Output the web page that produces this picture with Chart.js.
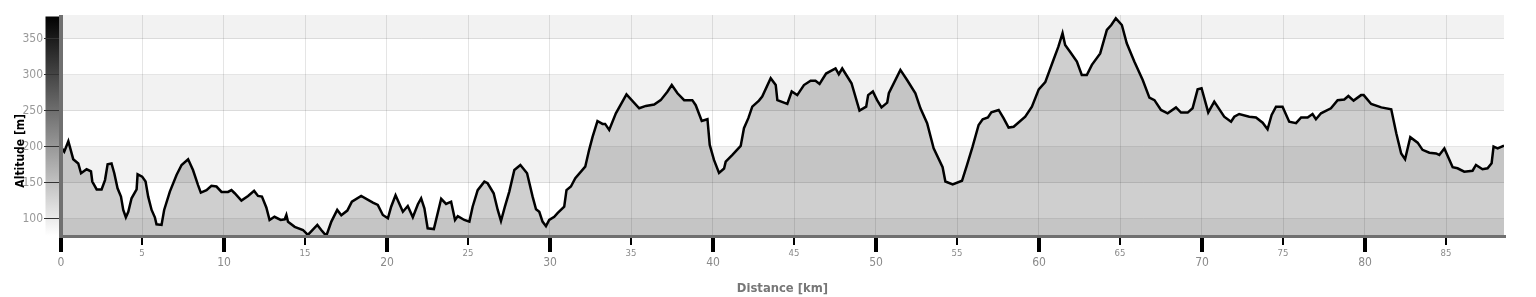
<!DOCTYPE html>
<html>
<head>
<meta charset="utf-8">
<script src="https://cdn.jsdelivr.net/npm/chart.js@4.4.1/dist/chart.umd.min.js"></script>
<style>
  html, body { margin: 0; padding: 0; background: #ffffff; }
  canvas { display: block; }
</style>
</head>
<body>
<canvas id="c" width="1536" height="297"></canvas>
<script>
const distances = [
  0, 0.2, 0.45, 0.75, 1.06, 1.23, 1.57, 1.84, 1.92, 2.19, 2.49, 2.7, 2.86, 3.1, 3.27, 3.47, 3.68, 3.82, 3.98, 4.13,
  4.33, 4.64, 4.7, 4.98, 5.19, 5.35, 5.56, 5.76, 5.86, 6.17, 6.33, 6.68, 7.09, 7.4, 7.8, 8.1, 8.41, 8.58, 8.93, 9.23,
  9.54, 9.85, 10.25, 10.46, 10.66, 11.07, 11.48, 11.85, 12.09, 12.33, 12.6, 12.8, 13.1, 13.48, 13.73, 13.83, 13.93, 14.34, 14.85, 15.15,
  15.73, 15.97, 16.28, 16.59, 16.95, 17.2, 17.57, 17.85, 18.42, 19.14, 19.44, 19.75, 20.06, 20.26, 20.53, 20.98, 21.28, 21.59, 21.9, 22.1,
  22.3, 22.5, 22.88, 23.33, 23.63, 23.94, 24.18, 24.35, 24.75, 25.06, 25.26, 25.57, 25.98, 26.18, 26.55, 26.8, 27.0, 27.24, 27.51, 27.82,
  28.19, 28.6, 28.94, 29.15, 29.35, 29.55, 29.76, 29.96, 30.27, 30.47, 30.88, 31.02, 31.29, 31.56, 32.17, 32.41, 32.62, 32.92, 33.23, 33.39,
  33.64, 34.05, 34.7, 35.48, 35.89, 36.4, 36.8, 37.21, 37.48, 37.83, 38.24, 38.74, 38.95, 39.32, 39.67, 39.81, 40.07, 40.38, 40.69, 40.79,
  41.2, 41.71, 41.91, 42.18, 42.42, 42.83, 43.03, 43.55, 43.86, 43.96, 44.57, 44.84, 45.18, 45.59, 46.0, 46.3, 46.55, 46.95, 47.53, 47.73,
  47.94, 48.51, 49.0, 49.41, 49.53, 49.82, 50.08, 50.35, 50.7, 50.8, 51.51, 51.92, 52.43, 52.74, 53.15, 53.55, 54.1, 54.27, 54.72, 55.29,
  55.6, 55.94, 56.31, 56.56, 56.88, 57.09, 57.54, 57.84, 58.15, 58.46, 59.17, 59.58, 60.0, 60.4, 60.9, 61.2, 61.46, 61.62, 61.93, 62.34,
  62.64, 62.95, 63.26, 63.77, 64.18, 64.45, 64.73, 65.1, 65.4, 65.87, 66.38, 66.79, 67.1, 67.5, 67.91, 68.42, 68.73, 69.14, 69.44, 69.75,
  69.99, 70.4, 70.77, 71.38, 71.8, 72.0, 72.3, 72.92, 73.33, 73.74, 74.04, 74.29, 74.56, 74.96, 75.37, 75.79, 76.1, 76.5, 76.8, 77.01,
  77.32, 77.93, 78.34, 78.75, 79.0, 79.32, 79.78, 79.94, 80.4, 81.02, 81.63, 81.94, 82.24, 82.48, 82.8, 83.25, 83.55, 83.97, 84.38, 84.58,
  84.89, 85.4, 85.7, 86.11, 86.62, 86.83, 87.23, 87.54, 87.79, 87.91, 88.16, 88.55
];
const altitudes = [
  200, 193.5, 208, 183, 177, 163.5, 169, 166, 152, 141, 141, 154, 176, 177, 163.5, 142.6, 131, 112.5, 102.3, 110,
  128.7, 141, 162, 158.8, 152, 131, 112.5, 102.3, 92.6, 91.7, 112.5, 138, 161, 175, 183, 168, 147, 136.6, 140, 146,
  145, 137.5, 137.5, 140, 135.7, 125.5, 132, 139, 132, 131, 116, 98.6, 103, 98.6, 99.5, 105.5, 96, 89, 84.7, 77.8,
  91.7, 84.7, 76.4, 96.3, 112.5, 105, 111.6, 124, 132, 122.7, 119.4, 105.5, 101, 117, 133, 110, 118, 102.3, 120.4, 128.7,
  114.8, 87, 86, 128, 120.8, 124, 98.6, 104, 98.6, 96.3, 117, 140, 151.8, 149.6, 135.7, 112.5, 97.2, 117, 138, 168,
  175, 163.5, 131, 113.5, 110, 96.3, 90, 98.6, 103, 108, 117, 140, 145, 156.5, 172.6, 196, 214, 236, 232, 232,
  223.6, 246.8, 273, 253.7, 257, 259, 265, 276.8, 286, 274.6, 265, 265, 258, 236, 238.5, 202.8, 182, 164, 170, 179.6,
  189, 201.4, 226, 240, 256, 264.4, 270, 295.4, 286, 265, 259.7, 277, 272, 286, 292, 292, 287.5, 302, 309, 301,
  309, 288.5, 250.4, 256, 272, 277, 265, 255, 261.5, 274.6, 307, 293, 274.6, 253.7, 233, 198, 171.8, 152, 148, 153,
  175, 200.4, 230.5, 238.5, 241, 248, 251.4, 240, 227, 228, 242, 256, 280, 290, 320.8, 339, 358, 341.7, 332, 318.5,
  300, 300, 314, 330, 362.5, 369.4, 378.7, 369.4, 344, 318.5, 293, 268.5, 265, 251.4, 246.8, 255, 247.7, 247.7, 253.7, 280,
  281.5, 248, 263, 242, 235, 242, 245.8, 242, 241, 233.7, 224.6, 244.5, 256, 256, 235, 233, 241, 241, 245.8, 238.5,
  246.8, 253.7, 265, 266, 270.8, 264.4, 272, 272, 259.7, 255, 252.4, 219, 191, 183, 213.5, 206, 196, 192, 191, 188.9,
  198, 171.8, 170.4, 165.7, 167, 175, 169, 170.4, 177.4, 200.4, 198, 202
];
const xTickValues = [0, 5, 10, 15, 20, 25, 30, 35, 40, 45, 50, 55, 60, 65, 70, 75, 80, 85];
const xMajorTicks = [0, 10, 20, 30, 40, 50, 60, 70, 80];
const yTickValues = [100, 150, 200, 250, 300, 350];
const bandRanges = [[0, 100], [150, 200], [250, 300], [350, 400]];
const xTitle = 'Distance [km]';
const yTitle = 'Altitude [m]';

const FONT = "'DejaVu Sans Condensed', 'DejaVu Sans', sans-serif";
Chart.defaults.font.family = FONT;

const decor = {
  id: 'decor',
  beforeDraw(chart) {
    const ctx = chart.ctx;
    const a = chart.chartArea;
    ctx.save();
    const g = ctx.createLinearGradient(0, a.top, 0, 236);
    g.addColorStop(0, '#000000');
    g.addColorStop(1, '#ffffff');
    ctx.fillStyle = g;
    ctx.fillRect(45.5, a.top + 1.5, 14, 236 - a.top - 1.5);
    ctx.restore();
  },
  beforeDatasetsDraw(chart) {
    const ctx = chart.ctx;
    const a = chart.chartArea;
    const y = chart.scales.y;
    ctx.save();
    ctx.fillStyle = 'rgba(0,0,0,0.05)';
    bandRanges.forEach(([lo, hi]) => {
      const top = Math.max(a.top, y.getPixelForValue(hi));
      const bot = Math.min(a.bottom, y.getPixelForValue(lo));
      if (bot > top) ctx.fillRect(a.left, top, a.right - a.left, bot - top);
    });
    ctx.restore();
  },
  afterDraw(chart) {
    const ctx = chart.ctx;
    const a = chart.chartArea;
    const x = chart.scales.x;
    ctx.save();
    // axis lines
    ctx.fillStyle = '#707070';
    ctx.fillRect(59, a.top, 4, 238 - a.top);
    ctx.fillRect(59, 235, a.right + 2 - 59, 3);
    // x tick marks & labels
    xTickValues.forEach(v => {
      const px = Math.round(x.getPixelForValue(v));
      const major = xMajorTicks.includes(v);
      ctx.fillStyle = '#000';
      if (major) ctx.fillRect(px - 2, 238, 4, 14);
      else ctx.fillRect(px - 1, 238, 2, 7);
      ctx.fillStyle = '#8a8a8a';
      ctx.textAlign = 'center';
      ctx.textBaseline = 'alphabetic';
      if (major) {
        ctx.font = '12px ' + FONT;
        ctx.fillText(String(v), px, 265.7);
      } else {
        ctx.font = '9.5px ' + FONT;
        ctx.fillText(String(v), px, 255.7);
      }
    });
    // titles
    ctx.fillStyle = '#777777';
    ctx.font = "bold 11.6px 'DejaVu Sans', sans-serif";
    ctx.textAlign = 'center';
    ctx.fillText(xTitle, (a.left + a.right) / 2, 292);
    ctx.save();
    ctx.translate(24, 150.8);
    ctx.rotate(-Math.PI / 2);
    ctx.fillStyle = '#000000';
    ctx.font = "bold 12px 'DejaVu Sans Condensed', 'DejaVu Sans', sans-serif";
    ctx.fillText(yTitle, 0, 0);
    ctx.restore();
    ctx.restore();
  }
};

new Chart(document.getElementById('c'), {
  type: 'line',
  data: {
    datasets: [{
      data: distances.map((d, i) => ({ x: d, y: altitudes[i] })),
      borderColor: '#000000',
      borderWidth: 2.5,
      backgroundColor: 'rgba(0,0,0,0.19)',
      fill: 'start',
      pointRadius: 0,
      tension: 0
    }]
  },
  options: {
    responsive: false,
    animation: false,
    layout: { padding: { top: 15, right: 32, left: 0, bottom: 0 } },
    plugins: { legend: { display: false }, tooltip: { enabled: false } },
    scales: {
      x: {
        type: 'linear',
        min: 0,
        max: 88.55,
        afterBuildTicks: s => { s.ticks = xTickValues.map(v => ({ value: v })); },
        afterFit: s => { s.height = 61.5; },
        grid: { color: 'rgba(0,0,0,0.1)', lineWidth: 1, drawTicks: false },
        border: { display: false },
        ticks: { display: false }
      },
      y: {
        type: 'linear',
        min: 77,
        max: 383.3,
        afterBuildTicks: s => { s.ticks = yTickValues.map(v => ({ value: v })); },
        afterFit: s => { s.width = 61; },
        grid: { color: 'rgba(0,0,0,0.1)', lineWidth: 1, drawTicks: true, tickLength: 17, tickColor: '#333333', tickWidth: 1 },
        border: { display: false },
        ticks: { color: '#999999', font: { size: 12 }, padding: 1 }
      }
    }
  },
  plugins: [decor]
});
</script>
</body>
</html>
